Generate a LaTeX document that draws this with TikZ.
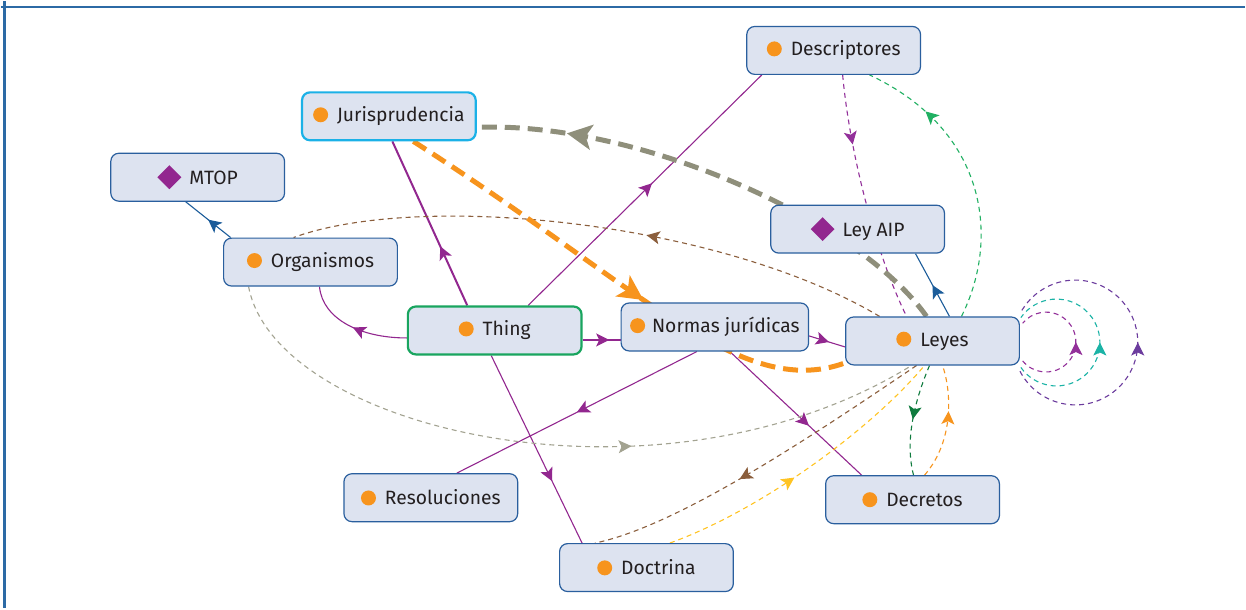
\documentclass[tikz,border=0pt]{standalone}
\usepackage{fontspec}
\setmainfont{Fira Sans}
\usetikzlibrary{arrows.meta,decorations.markings}

\definecolor{nodefill}{HTML}{DDE3F0}
\definecolor{nodeline}{HTML}{2A5F9E}
\definecolor{jurline}{HTML}{1BB1E7}
\definecolor{thingline}{HTML}{19A55F}
\definecolor{dotorange}{HTML}{F7941D}
\definecolor{diampurple}{HTML}{92278F}
\definecolor{subpurple}{HTML}{92278F}
\definecolor{instblue}{HTML}{1B5C9A}
\definecolor{graythick}{HTML}{8F8F7B}
\definecolor{propbrown}{HTML}{8B5E3C}
\definecolor{propgray}{HTML}{A3A391}
\definecolor{propyellow}{HTML}{FFC423}
\definecolor{propdkgreen}{HTML}{0F7B3E}
\definecolor{propgreen}{HTML}{20B062}
\definecolor{propteal}{HTML}{1BB3A6}
\definecolor{proppurple}{HTML}{93309A}
\definecolor{propviolet}{HTML}{6C3C9E}
\definecolor{framecol}{HTML}{2C6AA5}
\definecolor{textcol}{HTML}{231F20}

\pgfdeclarelayer{paper}
\pgfdeclarelayer{links}
\pgfsetlayers{paper,links,main}

% class and individual markers
\newcommand\classdot{\tikz[baseline=-7pt]\fill[dotorange] (0,0) circle (7.5pt);}
\newcommand\instdiam{\tikz[baseline=-7pt]\fill[diampurple, sharp corners] (0pt,12pt) -- (12pt,0pt) -- (0pt,-12pt) -- (-12pt,0pt) -- cycle;}

\tikzset{
  box/.style={draw=nodeline, fill=nodefill, rounded corners=8pt, line width=1.2pt,
    minimum width=174pt, minimum height=48pt, inner xsep=9pt, text=textcol,
    font=\fontsize{19.3}{23}\selectfont},
  sub/.style={draw=subpurple, line width=1.1pt},
  inst/.style={draw=instblue, line width=1.1pt},
  prop/.style={draw=#1, line width=1.1pt, dash pattern=on 5pt off 4pt},
  thickdash/.style={draw=#1, line width=5pt, dash pattern=on 15pt off 8pt},
  midarr/.style={postaction={decorate, decoration={markings,
    mark=at position #1 with {\arrow{Stealth[length=13pt,width=13pt,inset=3pt]}}}}},
  bigarr/.style={postaction={decorate, decoration={markings,
    mark=at position #1 with {\arrow{Stealth[length=25pt,width=25pt,inset=6pt]}}}}},
}

\begin{document}
\begin{tikzpicture}[x=1pt, y=-1pt]
\begin{pgfonlayer}{paper}
  \path[use as bounding box, fill=white] (0,0) rectangle (1246,607);
\end{pgfonlayer}

% frame
\draw[framecol, line width=2pt] (0,6) -- (1246,6);
\draw[framecol, line width=3pt] (4,0) -- (4,607);

% classes and individuals
\node[box] (desc) at (834,49) {\classdot\hspace{9pt}Descriptores};
\node[box, draw=jurline, line width=2.2pt] (juris) at (388.5,115) {\classdot\hspace{9pt}Jurisprudencia};
\node[box] (mtop) at (197,176) {\instdiam\hspace{8pt}MTOP};
\node[box] (leyaip) at (858,228) {\instdiam\hspace{8pt}Ley AIP};
\node[box] (org) at (310,261) {\classdot\hspace{9pt}Organismos};
\node[box, draw=thingline, line width=2.2pt] (thing) at (494.5,329.5) {\classdot\hspace{9pt}Thing};
\node[box] (normas) at (715,326) {\classdot\hspace{7pt}Normas jurídicas};
\node[box] (leyes) at (933,340) {\classdot\hspace{9pt}Leyes};
\node[box] (resol) at (430.5,497) {\classdot\hspace{9pt}Resoluciones};
\node[box] (decr) at (913,499) {\classdot\hspace{9pt}Decretos};
\node[box] (doct) at (646.5,567) {\classdot\hspace{9pt}Doctrina};

\begin{pgfonlayer}{links}
  % subclass links
  \draw[sub, midarr=0.5] ([yshift=-7.5pt]thing.west) .. controls (360,337) and (322,318) .. ([xshift=9pt]org.south);
  \draw[sub, line width=2pt, midarr=0.36] ([xshift=-27.5pt]thing.north) -- ([xshift=3.5pt]juris.south);
  \draw[sub, midarr=0.53] ([xshift=33.5pt]thing.north) -- ([xshift=-72pt]desc.south);
  \draw[sub, midarr=0.7] ([yshift=-9.5pt]thing.east) -- ([yshift=-13pt]normas.west);
  \draw[sub, midarr=0.67] ([xshift=-3.5pt]thing.south) -- ([xshift=-64.5pt]doct.north);
  \draw[sub, midarr=0.55] ([yshift=-9pt]normas.east) -- ([yshift=-6pt]leyes.west);
  \draw[sub, midarr=0.5] ([xshift=-18pt]normas.south) -- ([xshift=26pt]resol.north);
  \draw[sub, midarr=0.6] ([xshift=15pt]normas.south) -- ([xshift=-51pt]decr.north);

  % individual links
  \draw[inst, midarr=0.5] ([xshift=-80pt]org.north) -- ([xshift=-12pt]mtop.south);
  \draw[inst, midarr=0.5] ([xshift=17pt]leyes.north) -- ([xshift=58pt]leyaip.south);

  % property links
  \draw[prop=proppurple, midarr=0.28] ([xshift=9pt]desc.south) .. controls (850,150) and (875,250) .. ([xshift=-26pt]leyes.north);
  \draw[prop=propgreen, midarr=0.77] ([xshift=29pt]leyes.north) .. controls (1000,240) and (990,130) .. ([xshift=36pt]desc.south);
  \draw[prop=propbrown, midarr=0.41] ([xshift=-53pt]leyes.north) .. controls (720,220) and (420,190) .. ([xshift=-17pt]org.north);
  \draw[prop=propgray, midarr=0.6] ([xshift=-62pt]org.south) .. controls (275,430) and (660,520) .. ([xshift=-21pt]leyes.south);
  \draw[prop=propbrown, midarr=0.57] ([xshift=-16pt]leyes.south) .. controls (820,430) and (680,525) .. ([xshift=-51.5pt]doct.north);
  \draw[prop=propyellow, midarr=0.45] ([xshift=23.5pt]doct.north) .. controls (760,510) and (870,430) .. ([xshift=-8pt]leyes.south);
  \draw[prop=propdkgreen, midarr=0.5] ([xshift=-3pt]leyes.south) .. controls (915,400) and (905,440) .. ([xshift=1pt]decr.north);
  \draw[prop=dotorange, midarr=0.6] ([xshift=12pt]decr.north) .. controls (955,440) and (952,390) .. ([xshift=10pt]leyes.south);

  % heavy links
  \draw[thickdash=graythick, bigarr=0.82] ([xshift=-6pt]leyes.north) .. controls (860,220) and (640,120) .. ([yshift=-11pt]juris.east);
  \draw[thickdash=dotorange, bigarr=0.56] ([xshift=24.5pt]juris.south) .. controls (640,285) and (740,400) .. ([yshift=-22pt]leyes.west);

  % self links on Leyes
  \draw[prop=proppurple, midarr=0.5] (leyes.east) ++(2.7,20) arc[start angle=141, end angle=-141, radius=30];
  \draw[prop=propteal, midarr=0.5] (leyes.east) ++(0.9,26.5) arc[start angle=145, end angle=-145, radius=43.5];
  \draw[prop=propviolet, midarr=0.5] (leyes.east) ++(0,30.3) arc[start angle=152.6, end angle=-152.6, radius=62.5];
\end{pgfonlayer}
\end{tikzpicture}
\end{document}
